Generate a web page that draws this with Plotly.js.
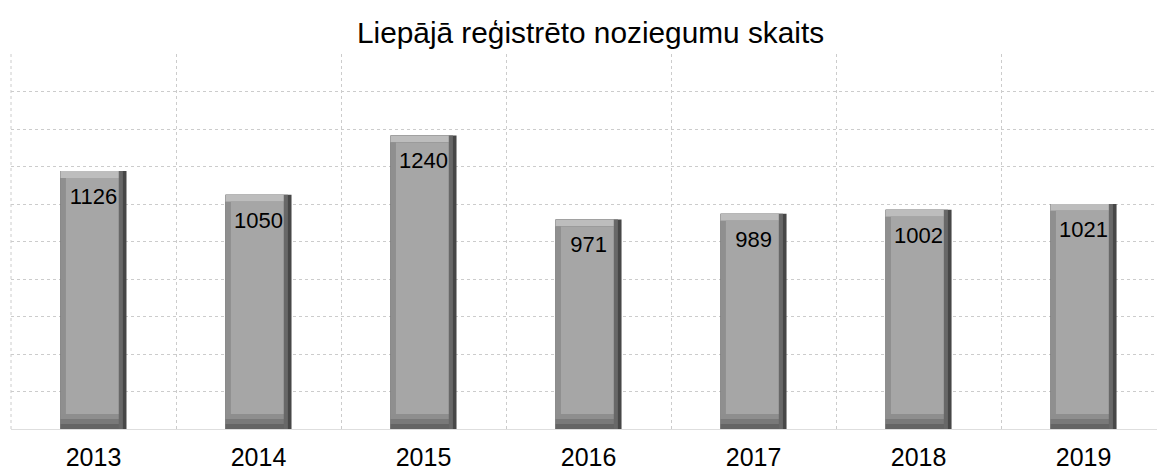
<!DOCTYPE html>
<html>
<head>
<meta charset="utf-8">
<script src="https://cdn.plot.ly/plotly-3.0.1.min.js"></script>
<style>html,body{margin:0;padding:0;background:#fff;}#chart{width:1157px;height:472px;}</style>
</head>
<body>
<div id="chart"></div>
<script>
const years = ['2013', '2014', '2015', '2016', '2017', '2018', '2019'];
const crimes = [1126, 1050, 1240, 971, 989, 1002, 1021];
const chartTitle = 'Liepājā reģistrēto noziegumu skaits';

const AXIS_MIN = 300, AXIS_MAX = 1500;
const HALF = 0.2;      // half bar width (category units)
const BL = 0.03;       // left bevel
const BR1 = 0.022;     // right bevel outer
const BR2 = 0.025;     // right bevel inner
const BT = 22;         // top bevel (value units)
const BB = 16;         // bottom bevel band (value units, x3)
const LABEL_DROP = 32; // label anchor below bar top (value units)

const FONT = 'Liberation Sans, Arial, sans-serif';

function layer(base, height, offset, width, color, extra) {
  return Object.assign({
    type: 'bar', x: years, base: base, y: height,
    offset: offset, width: width,
    marker: {color: color, line: {width: 0}},
    hoverinfo: 'skip', showlegend: false
  }, extra || {});
}
const c = (f) => crimes.map(f);
const W = 2 * HALF;

const traces = [
  // whole bar, darkest (outer right edge)
  layer(c(() => AXIS_MIN), c(v => v - AXIS_MIN), -HALF, W, '#474747'),
  // inner right bevel
  layer(c(() => AXIS_MIN), c(v => v - AXIS_MIN), -HALF, W - BR1, '#686868'),
  // bottom bevel bands (dark to light going up)
  layer(c(() => AXIS_MIN), c(() => BB), -HALF, W - BR1 - BR2, '#646464'),
  layer(c(() => AXIS_MIN + BB), c(() => BB), -HALF, W - BR1 - BR2, '#797979'),
  layer(c(() => AXIS_MIN + 2 * BB), c(() => BB), -HALF, W - BR1 - BR2, '#8e8e8e'),
  // left bevel
  layer(c(() => AXIS_MIN + 3 * BB), c(v => v - AXIS_MIN - 3 * BB - BT), -HALF, BL, '#8f8f8f'),
  // top bevel
  layer(c(v => v - BT), c(() => BT), -HALF, W - BR1 - BR2, '#bdbdbd'),
  // face
  layer(c(() => AXIS_MIN + 3 * BB), c(v => v - AXIS_MIN - 3 * BB - BT), -HALF + BL, W - BL - BR1 - BR2, '#a6a6a6'),
  // label carrier (transparent)
  layer(c(() => AXIS_MIN), c(v => v - AXIS_MIN - LABEL_DROP), -HALF, W, 'rgba(0,0,0,0)', {
    text: crimes.map(String),
    textposition: 'inside',
    insidetextanchor: 'end',
    constraintext: 'none',
    textangle: 0,
    insidetextfont: {family: FONT, size: 22, color: '#000000'}
  })
];

const layout = {
  width: 1157, height: 472,
  margin: {l: 11, r: 0, t: 54, b: 43, pad: 0},
  paper_bgcolor: '#ffffff', plot_bgcolor: '#ffffff',
  barmode: 'overlay',
  title: {
    text: chartTitle,
    font: {family: FONT, size: 29.8, color: '#000000'},
    xref: 'container', x: 0.5104, xanchor: 'center',
    yref: 'container', y: 0.932, yanchor: 'middle'
  },
  xaxis: {
    type: 'category',
    range: [-0.5, 6.445],
    tickson: 'boundaries',
    showgrid: true, gridcolor: '#cccccc', griddash: 'dot', gridwidth: 1,
    showline: true, linecolor: '#dedede', linewidth: 1,
    ticks: '', ticklen: 0,
    ticklabelstandoff: 6,
    tickfont: {family: FONT, size: 25, color: '#000000'},
    zeroline: false, fixedrange: true
  },
  yaxis: {
    range: [AXIS_MIN, AXIS_MAX + 1],
    tick0: AXIS_MIN, dtick: 120,
    showticklabels: false, ticks: '',
    showgrid: true, gridcolor: '#cccccc', griddash: 'dot', gridwidth: 1,
    zeroline: false, showline: false, fixedrange: true
  },
  shapes: [{
    type: 'line', xref: 'paper', yref: 'paper', x0: 0, x1: 0, y0: 0, y1: 1,
    line: {color: '#cccccc', width: 1, dash: 'dot'}, layer: 'below'
  }],
  font: {family: FONT}
};

Plotly.newPlot('chart', traces, layout, {displayModeBar: false, staticPlot: true});
</script>
</body>
</html>
